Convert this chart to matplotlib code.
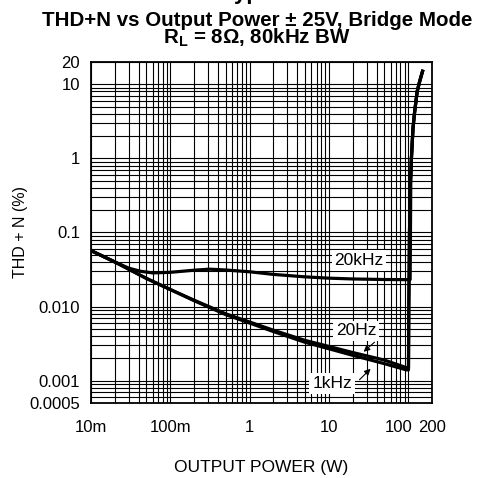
import matplotlib
matplotlib.use("Agg")
import matplotlib.pyplot as plt
from matplotlib.ticker import FixedLocator, NullFormatter, LogLocator
from matplotlib.transforms import ScaledTranslation

plt.rcParams['font.family'] = ['Liberation Sans', 'DejaVu Sans']

# Data (output power in W, THD+N in %)
p_20khz = [0.01, 0.02, 0.03, 0.042, 0.06, 0.1, 0.2, 0.31, 0.5, 1, 2, 5, 10, 20, 50, 100, 106, 107, 108, 110, 115, 120, 130, 140, 152]
thd_20khz = [0.057, 0.040, 0.033, 0.0300, 0.0285, 0.0290, 0.0310, 0.0320, 0.0312, 0.0295, 0.0272, 0.0252, 0.0242, 0.0236, 0.0232, 0.0231, 0.0232, 0.1, 0.5, 1.0, 2.5, 4.0, 8.0, 11.0, 15.0]

p_20hz = [0.01, 0.02, 0.05, 0.1, 0.2, 0.5, 1, 2, 5, 10, 20, 50, 95, 101, 102, 104, 107, 110, 115, 120, 130, 140, 152]
thd_20hz = [0.057, 0.040, 0.024, 0.017, 0.0122, 0.0080, 0.0062, 0.0048, 0.0035, 0.0029, 0.0024, 0.0019, 0.00150, 0.00150, 0.01, 0.1, 0.5, 1.0, 2.5, 4.0, 8.0, 11.0, 15.0]

p_1khz = [0.01, 0.02, 0.05, 0.1, 0.2, 0.5, 1, 2, 5, 10, 20, 50, 95, 101, 102, 104, 107, 110, 115, 120, 130, 140, 152]
thd_1khz = [0.057, 0.040, 0.024, 0.017, 0.0120, 0.0078, 0.0060, 0.0046, 0.0033, 0.0027, 0.0022, 0.0017, 0.00140, 0.00140, 0.01, 0.1, 0.5, 1.0, 2.5, 4.0, 8.0, 11.0, 15.0]

x_ticks = [0.01, 0.1, 1, 10, 100, 200]
x_labels = ["10m", "100m", "1", "10", "100", "200"]
y_ticks = [0.0005, 0.001, 0.01, 0.1, 1, 10, 20]
y_labels = ["0.0005", "0.001", "0.010", "0.1", "1", "10", "20"]

fig = plt.figure(figsize=(4.85, 4.78), dpi=100)
W, H = 485, 478
ax = fig.add_axes([91 / W, 1 - 403 / H, (432 - 91) / W, (403 - 62) / H])
ax.set_xscale('log')
ax.set_yscale('log')
ax.set_xlim(0.01, 200)
ax.set_ylim(0.0005, 20)

# grid
ax.xaxis.set_minor_locator(LogLocator(base=10, subs=range(2, 10), numticks=20))
ax.yaxis.set_minor_locator(LogLocator(base=10, subs=range(2, 10), numticks=20))
ax.xaxis.set_minor_formatter(NullFormatter())
ax.yaxis.set_minor_formatter(NullFormatter())
ax.grid(True, which='both', color='black', linewidth=0.8)
ax.set_axisbelow(True)

ax.xaxis.set_major_locator(FixedLocator(x_ticks))
ax.set_xticklabels(x_labels)
ax.yaxis.set_major_locator(FixedLocator(y_ticks))
ax.set_yticklabels(y_labels)
ax.tick_params(which='both', length=0)
ax.tick_params(axis='x', pad=12, labelsize=12)
ax.tick_params(axis='y', pad=8, labelsize=12)
for sp in ax.spines.values():
    sp.set_linewidth(1.3)

# shift "100" label left to avoid "200"
for lbl in ax.get_xticklabels():
    if lbl.get_text() == "100":
        lbl.set_transform(lbl.get_transform() + ScaledTranslation(-7 / 72, 0, fig.dpi_scale_trans))

ax.plot(p_20khz, thd_20khz, color='black', lw=2.3, solid_joinstyle='round', zorder=3)
ax.plot(p_20hz, thd_20hz, color='black', lw=2.3, solid_joinstyle='round', zorder=3)
ax.plot(p_1khz, thd_1khz, color='black', lw=2.3, solid_joinstyle='round', zorder=3)

bbox = dict(facecolor='white', edgecolor='none', pad=2)
ax.text(24, 0.042, "20kHz", ha='center', va='center', fontsize=12.5, bbox=bbox, zorder=4)
ax.text(22, 0.0047, "20Hz", ha='center', va='center', fontsize=12.5, bbox=bbox, zorder=4)
ax.text(11, 0.00091, "1kHz", ha='center', va='center', fontsize=12.5, bbox=bbox, zorder=4)
ax.annotate("", xy=(25.8, 0.00232), xytext=(40, 0.0035),
            arrowprops=dict(arrowstyle='-|>', color='black', lw=0.8, mutation_scale=9), zorder=5)
ax.annotate("", xy=(35.6, 0.00154), xytext=(23, 0.00097),
            arrowprops=dict(arrowstyle='-|>', color='black', lw=0.8, mutation_scale=9), zorder=5)

ax.set_xlabel("OUTPUT POWER (W)", fontsize=12.5, labelpad=18.5)
ax.set_ylabel("THD + N (%)", fontsize=11.5, labelpad=0.5)

fig.text(0.531, 1 - 26 / H, "THD+N vs Output Power \u00b1 25V, Bridge Mode", ha='center', va='baseline',
         fontsize=14.8, fontweight='bold')
fig.text(0.529, 1 - 43.5 / H, "R$_\\mathregular{L}$ = 8\u03a9, 80kHz BW", ha='center', va='baseline',
         fontsize=14.8, fontweight='bold')
fig.text(222 / W, 1 + 1 / H, "Typical Performance Characteristics", ha='left', va='baseline',
         fontsize=16, fontweight='bold')

fig.savefig("out.png", dpi=100)
